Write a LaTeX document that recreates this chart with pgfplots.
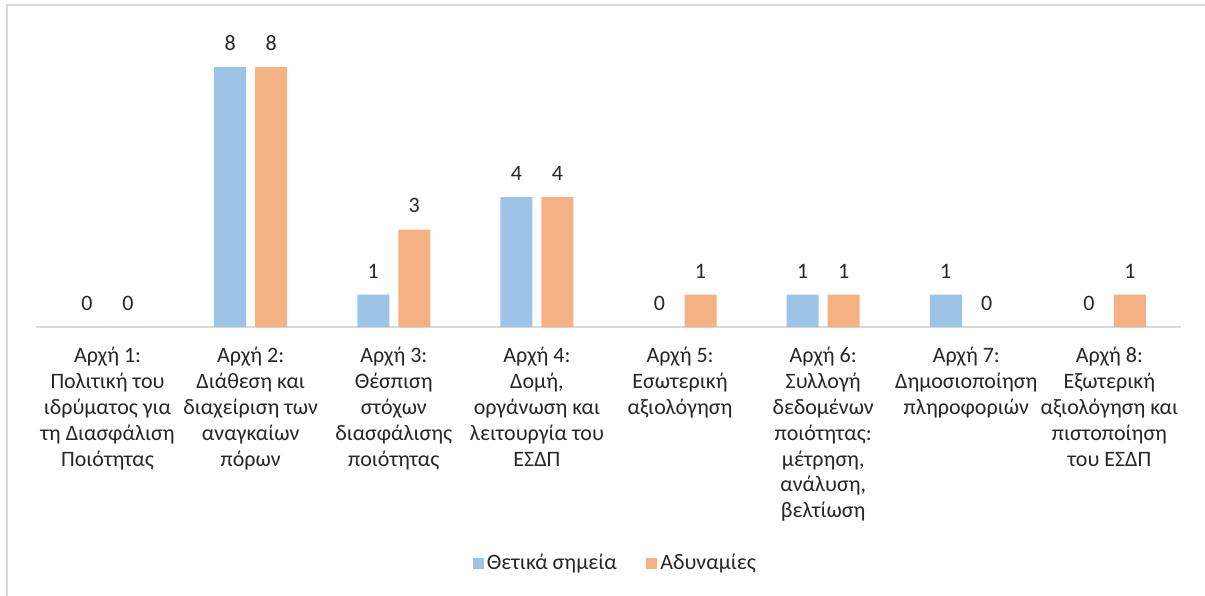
\documentclass[border=0pt]{standalone}
\usepackage{fontspec}
\setmainfont{Carlito}
\usepackage{pgfplots}
\pgfplotsset{compat=1.18}
\definecolor{cblue}{HTML}{9DC3E6}
\definecolor{corange}{HTML}{F4B183}
\definecolor{frame}{HTML}{D9D9D9}
\definecolor{txt}{HTML}{262626}
\newcommand{\lblfont}{\fontsize{11}{12.9}\selectfont}
\begin{document}
\begin{tikzpicture}[x=1pt,y=1pt]
\useasboundingbox (0,0) rectangle (602.5,297.5);
\draw[frame, line width=0.75pt] (3.5,-2) -- (3.5,295) -- (606,295);
\begin{axis}[
  at={(18pt,134pt)}, anchor=south west,
  scale only axis, width=572.5pt, height=146.25pt,
  ybar=4.5pt, bar width=16pt,
  xmin=0.5, xmax=8.5, ymin=0, ymax=9,
  axis y line=none, axis x line=bottom,
  x axis line style={draw=frame, -, line width=0.75pt},
  xtick={1,...,8}, major tick length=0pt,
  xticklabels={
    {Αρχή 1:\\Πολιτική του\\ιδρύματος για\\τη Διασφάλιση\\Ποιότητας},
    {Αρχή 2:\\Διάθεση και\\διαχείριση των\\αναγκαίων\\πόρων},
    {Αρχή 3:\\Θέσπιση\\στόχων\\διασφάλισης\\ποιότητας},
    {Αρχή 4:\\Δομή,\\οργάνωση και\\λειτουργία του\\ΕΣΔΠ},
    {Αρχή 5:\\Εσωτερική\\αξιολόγηση},
    {Αρχή 6:\\Συλλογή\\δεδομένων\\ποιότητας:\\μέτρηση,\\ανάλυση,\\βελτίωση},
    {Αρχή 7:\\Δημοσιοποίηση\\πληροφοριών},
    {Αρχή 8:\\Εξωτερική\\αξιολόγηση και\\πιστοποίηση\\του ΕΣΔΠ}},
  xticklabel style={align=center, anchor=north, inner sep=0pt, yshift=-10pt, font=\lblfont, text=txt},
  clip=false,
  /pgf/number format/assume math mode=true,
  nodes near coords={\pgfmathprintnumber{\pgfplotspointmeta}},
  every node near coord/.append style={font=\lblfont, text=txt, anchor=south, inner sep=0pt, yshift=8pt},
  legend columns=2,
  legend style={at={(0.5065,-0.807)}, anchor=center, draw=none, font=\lblfont, text=txt,
    nodes={inner xsep=1.6pt},
    /tikz/every even column/.append style={column sep=13pt}},
  legend image code/.code={\fill[#1] (0pt,-2.75pt) rectangle (5.5pt,2.75pt);},
]
\addplot[fill=cblue, draw=none] coordinates {(1,0) (2,8) (3,1) (4,4) (5,0) (6,1) (7,1) (8,0)};
\addplot[fill=corange, draw=none] coordinates {(1,0) (2,8) (3,3) (4,4) (5,1) (6,1) (7,0) (8,1)};
\legend{Θετικά σημεία, Αδυναμίες}
\end{axis}
\end{tikzpicture}
\end{document}
